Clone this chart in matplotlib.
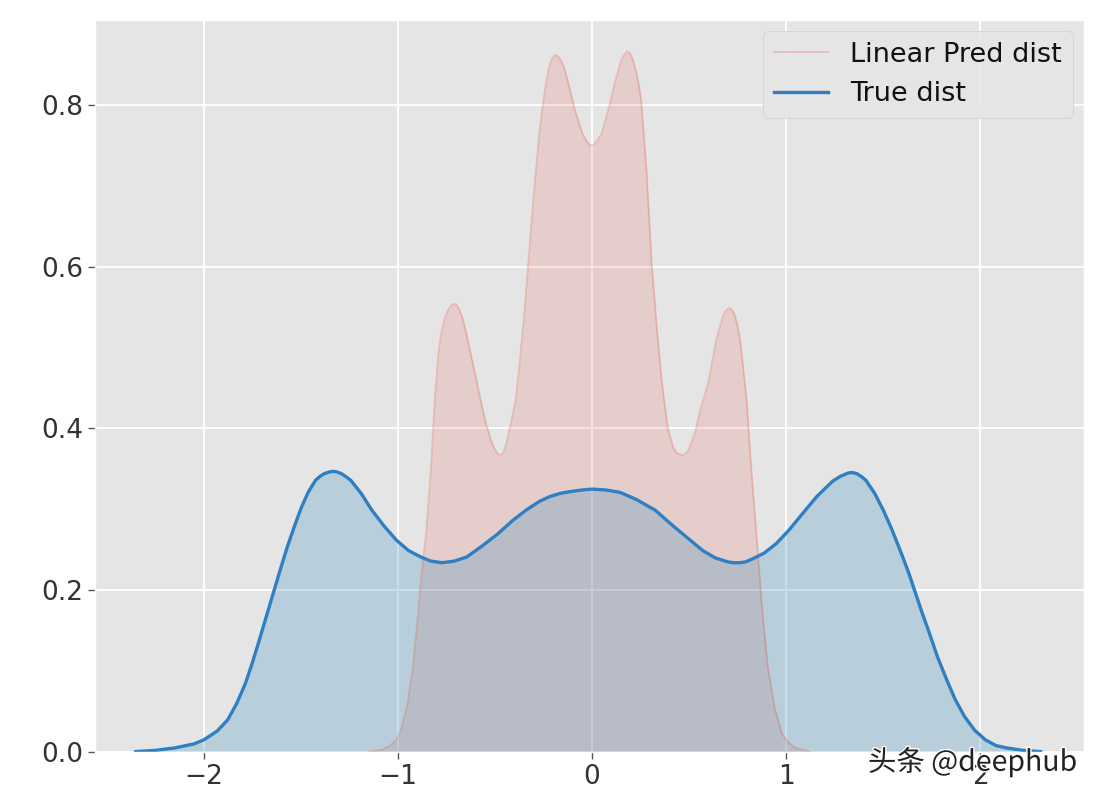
import matplotlib
matplotlib.use("Agg")
import matplotlib.pyplot as plt
import matplotlib.patheffects as pe

plt.style.use('ggplot')

# density curves (x, density)
true_x = [-2.35, -2.25, -2.15, -2.05, -2.0, -1.93, -1.876, -1.83, -1.785, -1.75,
          -1.713, -1.677, -1.641, -1.605, -1.569, -1.53, -1.496, -1.46, -1.424, -1.40,
          -1.38, -1.357, -1.334, -1.31, -1.29, -1.265, -1.243, -1.19, -1.134, -1.07,
          -1.008, -0.945, -0.881, -0.83, -0.80, -0.773, -0.74, -0.71, -0.646, -0.57,
          -0.484, -0.41, -0.34, -0.27, -0.216, -0.16, -0.11, -0.05, 0.0, 0.07,
          0.144, 0.23, 0.325, 0.415, 0.505, 0.57, 0.634, 0.70, 0.73, 0.76,
          0.79, 0.82, 0.887, 0.95, 1.013, 1.085, 1.158, 1.24, 1.28, 1.30,
          1.32, 1.34, 1.365, 1.39, 1.41, 1.455, 1.5, 1.546, 1.592, 1.63,
          1.665, 1.70, 1.737, 1.78, 1.827, 1.87, 1.918, 1.97, 2.026, 2.08,
          2.135, 2.22, 2.31]
true_y = [0.0005, 0.002, 0.005, 0.01, 0.015, 0.026, 0.04, 0.06, 0.085, 0.11,
          0.139, 0.168, 0.197, 0.226, 0.254, 0.281, 0.303, 0.322, 0.336, 0.341,
          0.344, 0.346, 0.347, 0.346, 0.344, 0.34, 0.336, 0.32, 0.299, 0.279,
          0.262, 0.249, 0.241, 0.236, 0.235, 0.234, 0.235, 0.236, 0.241, 0.254,
          0.27, 0.286, 0.299, 0.31, 0.316, 0.32, 0.322, 0.324, 0.325, 0.324,
          0.321, 0.312, 0.299, 0.28, 0.262, 0.249, 0.24, 0.235, 0.234, 0.234,
          0.235, 0.238, 0.246, 0.258, 0.274, 0.295, 0.316, 0.335, 0.341, 0.343,
          0.345, 0.3455, 0.344, 0.34, 0.336, 0.32, 0.299, 0.274, 0.246, 0.222,
          0.197, 0.172, 0.147, 0.117, 0.089, 0.065, 0.044, 0.027, 0.015, 0.008,
          0.005, 0.002, 0.0005]

pred_x = [-1.15, -1.08, -1.04, -1.008, -0.98, -0.95, -0.92, -0.9, -0.881, -0.855,
          -0.83, -0.81, -0.79, -0.775, -0.76, -0.745, -0.73, -0.715, -0.70, -0.685,
          -0.665, -0.645, -0.61, -0.574, -0.545, -0.52, -0.505, -0.49, -0.474, -0.46,
          -0.445, -0.43, -0.393, -0.375, -0.35, -0.33, -0.30, -0.27, -0.248, -0.235,
          -0.22, -0.205, -0.19, -0.175, -0.16, -0.14, -0.12, -0.09, -0.05, -0.03,
          -0.015, 0.0, 0.015, 0.03, 0.05, 0.09, 0.12, 0.15, 0.165, 0.18,
          0.195, 0.21, 0.225, 0.24, 0.253, 0.28, 0.308, 0.335, 0.36, 0.39,
          0.42, 0.44, 0.469, 0.485, 0.50, 0.53, 0.56, 0.598, 0.64, 0.675,
          0.69, 0.706, 0.72, 0.735, 0.75, 0.765, 0.796, 0.82, 0.85, 0.875,
          0.905, 0.94, 0.977, 1.01, 1.05, 1.12]
pred_y = [0.0005, 0.003, 0.008, 0.015, 0.03, 0.06, 0.11, 0.16, 0.213, 0.27,
          0.35, 0.435, 0.497, 0.52, 0.535, 0.545, 0.551, 0.554, 0.553, 0.548,
          0.535, 0.515, 0.476, 0.435, 0.405, 0.385, 0.376, 0.37, 0.367, 0.369,
          0.378, 0.394, 0.435, 0.476, 0.54, 0.6, 0.69, 0.77, 0.81, 0.83,
          0.848, 0.858, 0.862, 0.86, 0.855, 0.843, 0.825, 0.795, 0.765, 0.756,
          0.751, 0.75, 0.752, 0.757, 0.765, 0.8, 0.83, 0.855, 0.862, 0.866,
          0.864, 0.856, 0.843, 0.826, 0.806, 0.72, 0.6, 0.52, 0.456, 0.4,
          0.375, 0.369, 0.367, 0.369, 0.375, 0.395, 0.425, 0.456, 0.51, 0.54,
          0.546, 0.549, 0.547, 0.54, 0.526, 0.505, 0.435, 0.35, 0.258, 0.18,
          0.105, 0.055, 0.023, 0.012, 0.005, 0.0005]

fig = plt.figure(figsize=(11, 8), dpi=100)
ax = fig.add_axes([0.086, 0.06, 0.899, 0.915])

ax.fill_between(pred_x, pred_y, color='#E24A33', alpha=0.15, linewidth=0)
ax.plot(pred_x, pred_y, color='#E24A33', alpha=0.25, linewidth=1.3, label='Linear Pred dist')
ax.fill_between(true_x, true_y, color='#348ABD', alpha=0.25, linewidth=0)
ax.plot(true_x, true_y, color='#2F80C2', linewidth=2.4, label='True dist')

ax.set_xlim(-2.562, 2.531)
ax.set_ylim(0, 0.905)
ax.set_xticks([-2, -1, 0, 1, 2])
ax.set_yticks([0.0, 0.2, 0.4, 0.6, 0.8])
ax.set_xticklabels(['\u22122', '\u22121', '0', '1', '2'])
ax.set_yticklabels(['0.0', '0.2', '0.4', '0.6', '0.8'])
ax.tick_params(labelsize=19, colors='#555555', labelcolor='#333333', length=5, width=1)
ax.grid(True, color='white', linewidth=1.3)

leg = ax.legend(loc='upper right', fontsize=19.5, facecolor='#E5E5E5',
                edgecolor='#CCCCCC', framealpha=0.9, borderaxespad=0.4)
for t in leg.get_texts():
    t.set_color('#111111')

# watermark, overlaps the "2" tick label like in the reference
fig.text(0.789, 0.047, '头条 @deephub', fontsize=20.5, color='#222222',
         family=['Noto Sans CJK SC', 'DejaVu Sans'], va='center',
         path_effects=[pe.withStroke(linewidth=2, foreground='white')])

fig.savefig('out.png', dpi=100)
